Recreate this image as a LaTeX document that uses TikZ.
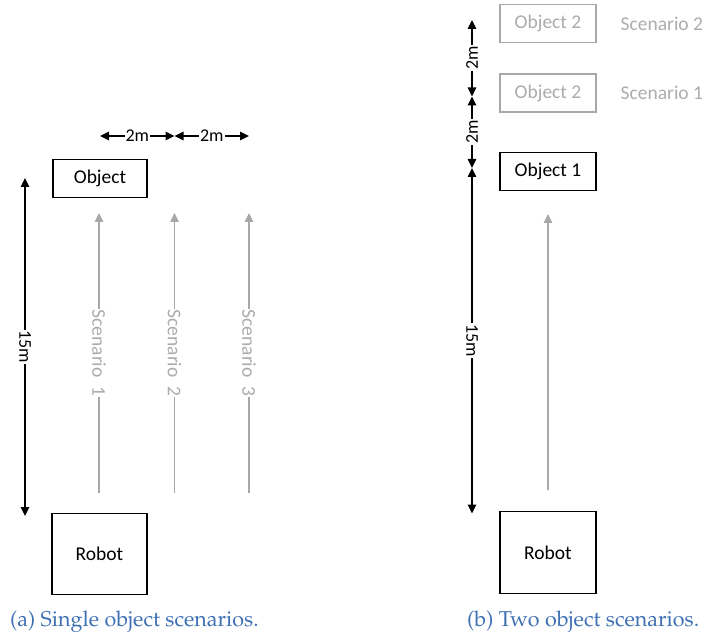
\documentclass[tikz,border=0pt]{standalone}
\usepackage[T1]{fontenc}
\usepackage{fontspec}
\usetikzlibrary{arrows.meta}
\newfontfamily\labelfont{Carlito}
\newcommand{\capfont}{\fontencoding{T1}\fontfamily{ppl}\fontsize{21.5}{24}\selectfont}
\definecolor{capblue}{RGB}{62,112,180}
\definecolor{faint}{RGB}{168,168,168}
\definecolor{fainttext}{RGB}{172,172,172}

\tikzset{
  box/.style={draw=black, line width=1.2pt, fill=white, inner sep=0pt,
    font=\labelfont\fontsize{19.5}{22}\selectfont},
  ghostbox/.style={box, draw=faint, text=fainttext},
  dimension/.style={draw=black, line width=1.2pt, {Triangle[width=8.5pt,length=9pt]}-{Triangle[width=8.5pt,length=9pt]}},
  dimlabel/.style={fill=white, inner sep=1pt, font=\labelfont\fontsize{18}{20}\selectfont},
  path arrow/.style={draw=faint, line width=1.2pt, -{Triangle[width=8.5pt,length=9pt]}},
  pathlabel/.style={fill=white, inner sep=1pt, text=fainttext, rotate=-90,
    font=\labelfont\fontsize{19.5}{22}\selectfont},
  caption/.style={text=capblue, inner sep=0pt, anchor=west, font=\capfont},
}

\begin{document}
\begin{tikzpicture}[x=1pt, y=-1pt]
\useasboundingbox (0,0) rectangle (709,636);

% ---------- (a) single object ----------
\node[box, minimum width=94pt, minimum height=38pt] (obj) at (100,178.3) {Object};
\node[box, minimum width=95pt, minimum height=81pt] (robA) at (99.5,553.7) {Robot};

\coordinate (dA1) at (25,178);
\coordinate (dA2) at (25,516);
\draw[dimension] (dA1) -- node[dimlabel, rotate=-90] {15m} (dA2);

\coordinate (g1) at (100,136);
\coordinate (g2) at (174.5,136);
\coordinate (g3) at (249,136);
\draw[dimension] (g1) -- node[dimlabel] {2m} (g2);
\draw[dimension] (g2) -- node[dimlabel] {2m} (g3);

\coordinate (s1b) at (99,493);   \coordinate (s1t) at (99,213);
\coordinate (s2b) at (174.5,493); \coordinate (s2t) at (174.5,213);
\coordinate (s3b) at (249,493);  \coordinate (s3t) at (249,213);
\draw[path arrow] (s1b) -- node[pathlabel] {Scenario\ \ 1} (s1t);
\draw[path arrow] (s2b) -- node[pathlabel] {Scenario\ \ 2} (s2t);
\draw[path arrow] (s3b) -- node[pathlabel] {Scenario\ \ 3} (s3t);

\node[caption] (capA) at (10,622) {(a) Single object scenarios.};

% ---------- (b) two objects ----------
\node[ghostbox, minimum width=96pt, minimum height=38pt] (objB2s2) at (548,23.7) {Object 2};
\node[ghostbox, minimum width=96pt, minimum height=38pt] (objB2s1) at (548,93) {Object 2};
\node[box, minimum width=96pt, minimum height=38.5pt] (objB1) at (548,171.5) {Object 1};
\node[box, minimum width=96pt, minimum height=82pt] (robB) at (548,552.5) {Robot};

\node[text=fainttext, anchor=west, inner sep=0pt, font=\labelfont\fontsize{19.5}{22}\selectfont]
  (scB2) at (620.5,23.7) {Scenario 2};
\node[text=fainttext, anchor=west, inner sep=0pt, font=\labelfont\fontsize{19.5}{22}\selectfont]
  (scB1) at (620.5,93.3) {Scenario 1};

\coordinate (h0) at (472,20);
\coordinate (h1) at (472,96.5);
\coordinate (h2) at (472,168);
\coordinate (h3) at (472,513.5);
\draw[dimension] (h0) -- node[dimlabel, rotate=90] {2m} (h1);
\draw[dimension] (h1) -- node[dimlabel, rotate=90] {2m} (h2);
\draw[dimension] (h2) -- node[dimlabel, rotate=-90] {15m} (h3);

\coordinate (rb) at (548,490);
\coordinate (rt) at (548,214);
\draw[path arrow] (rb) -- (rt);

\node[caption] (capB) at (467,622) {(b) Two object scenarios.};
\end{tikzpicture}
\end{document}
